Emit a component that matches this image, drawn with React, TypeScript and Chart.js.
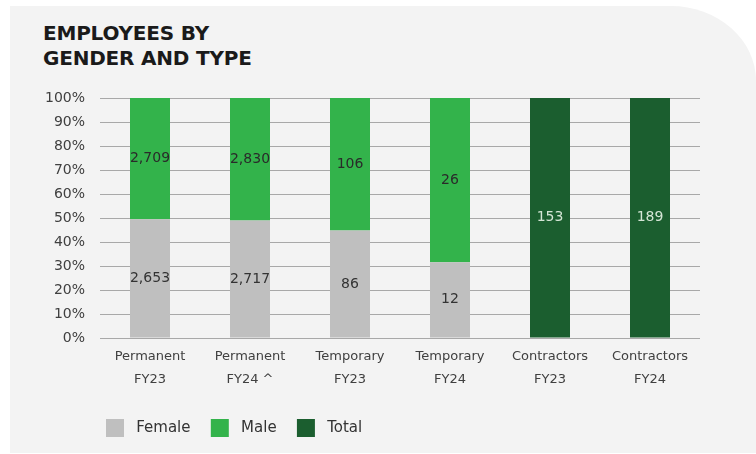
import { useEffect, useRef } from "react";
import { Chart, registerables } from "chart.js";

Chart.register(...registerables);

const categories: string[][] = [
  ["Permanent", "FY23"],
  ["Permanent", "FY24 ^"],
  ["Temporary", "FY23"],
  ["Temporary", "FY24"],
  ["Contractors", "FY23"],
  ["Contractors", "FY24"],
];
const femaleCounts: (number | null)[] = [2653, 2717, 86, 12, null, null];
const maleCounts: (number | null)[] = [2709, 2830, 106, 26, null, null];
const totalCounts: (number | null)[] = [null, null, null, null, 153, 189];
const seriesNames = ["Female", "Male", "Total"];
const yTickValues = [0, 10, 20, 30, 40, 50, 60, 70, 80, 90, 100];

const FONT = "'DejaVu Sans', sans-serif";

function shareOf(part: number | null, other: number | null): number | null {
  if (part == null) return null;
  const o = other == null ? 0 : other;
  return (part / (part + o)) * 100;
}

const countLabels = {
  id: "countLabels",
  afterDatasetsDraw(chart: any) {
    const ctx = chart.ctx;
    ctx.save();
    ctx.font = `14px ${FONT}`;
    ctx.textAlign = "center";
    ctx.textBaseline = "middle";
    chart.data.datasets.forEach((ds: any, di: number) => {
      const meta = chart.getDatasetMeta(di);
      meta.data.forEach((el: any, i: number) => {
        const c = ds.counts[i];
        if (c == null) return;
        const { x, y, base } = el.getProps(["x", "y", "base"], true);
        ctx.fillStyle = ds.labelColor;
        ctx.fillText(c.toLocaleString("en-US"), x, (y + base) / 2);
      });
    });
    ctx.restore();
  },
};

export default function App() {
  const ref = useRef<HTMLCanvasElement | null>(null);

  useEffect(() => {
    if (!ref.current) return;
    const femaleShare = femaleCounts.map((f, i) => shareOf(f, maleCounts[i]));
    const maleShare = maleCounts.map((m, i) => shareOf(m, femaleCounts[i]));
    const totalShare = totalCounts.map((t) => shareOf(t, null));

    const chart = new Chart(ref.current, {
      type: "bar",
      data: {
        labels: categories,
        datasets: [
          {
            label: seriesNames[0],
            data: femaleShare,
            backgroundColor: "#bfbfbf",
            counts: femaleCounts,
            labelColor: "#333333",
          } as any,
          {
            label: seriesNames[1],
            data: maleShare,
            backgroundColor: "#33b34b",
            counts: maleCounts,
            labelColor: "#2a2a2a",
          } as any,
          {
            label: seriesNames[2],
            data: totalShare,
            backgroundColor: "#1b5e2f",
            counts: totalCounts,
            labelColor: "#d5e6d6",
          } as any,
        ],
      },
      options: {
        animation: false,
        responsive: false,
        devicePixelRatio: 1,
        layout: { padding: { top: 98, right: 56, bottom: 7, left: 0 } },
        datasets: { bar: { barPercentage: 0.4, categoryPercentage: 1, borderWidth: 0 } },
        scales: {
          x: {
            stacked: true,
            grid: { display: false },
            border: { display: false },
            ticks: {
              font: { family: FONT, size: 13, lineHeight: 1.7 },
              color: "#404040",
              padding: 0,
              maxRotation: 0,
              autoSkip: false,
            },
            afterFit: (s: any) => {
              s.height = 75;
            },
          },
          y: {
            stacked: true,
            min: 0,
            max: 100,
            afterBuildTicks: (s: any) => {
              s.ticks = yTickValues.map((v) => ({ value: v }));
            },
            grid: { color: "#a8a8a8", lineWidth: 1, drawTicks: false },
            border: { display: false },
            ticks: {
              font: { family: FONT, size: 14 },
              color: "#404040",
              padding: 15,
              callback: (v: any) => `${v}%`,
            },
            afterFit: (s: any) => {
              s.width = 100;
            },
          },
        },
        plugins: {
          legend: {
            position: "bottom",
            align: "start",
            fullSize: false,
            labels: {
              boxWidth: 18,
              boxHeight: 18,
              padding: 6,
              color: "#333333",
              font: { family: FONT, size: 15 },
              generateLabels: (c: any) => {
                const items = (Chart.defaults.plugins.legend.labels as any).generateLabels(c);
                return items.map((it: any, i: number) => ({
                  ...it,
                  text: i < items.length - 1 ? ` ${it.text}   ` : ` ${it.text}`,
                }));
              },
            },
          },
          tooltip: { enabled: false },
        },
      } as any,
      plugins: [countLabels],
    });
    return () => chart.destroy();
  }, []);

  return (
    <div
      style={{
        position: "fixed",
        left: 0,
        top: 0,
        width: 756,
        height: 454,
        background: "#ffffff",
        overflow: "hidden",
      }}
    >
      <div
        style={{
          position: "absolute",
          left: 10,
          top: 6,
          width: 746,
          height: 447,
          background: "#f3f3f3",
          borderTopRightRadius: "85px 75px",
        }}
      />
      <div
        style={{
          position: "absolute",
          left: 43,
          top: 21,
          fontFamily: FONT,
          fontWeight: 700,
          fontSize: 20,
          lineHeight: "25px",
          color: "#1a1a1a",
          letterSpacing: "-0.2px",
        }}
      >
        EMPLOYEES BY
        <br />
        GENDER AND TYPE
      </div>
      <canvas
        ref={ref}
        width={756}
        height={454}
        style={{ position: "absolute", left: 0, top: 0, width: 756, height: 454 }}
      />
    </div>
  );
}
